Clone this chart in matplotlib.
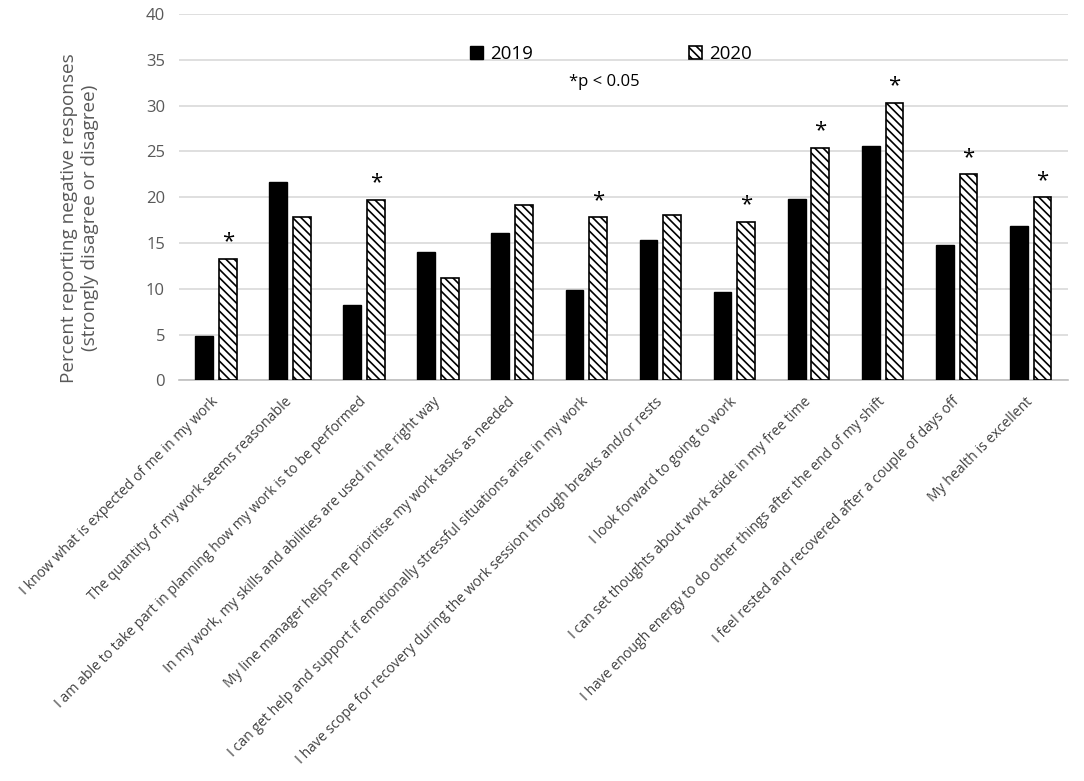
import numpy as np
import matplotlib
matplotlib.use("Agg")
import matplotlib.pyplot as plt

plt.rcParams['font.family'] = ['Open Sans', 'DejaVu Sans']
plt.rcParams['hatch.linewidth'] = 1.2

categories = [
    "I know what is expected of me in my work",
    "The quantity of my work seems reasonable",
    "I am able to take part in planning how my work is to be performed",
    "In my work, my skills and abilities are used in the right way",
    "My line manager helps me prioritise my work tasks as needed",
    "I can get help and support if emotionally stressful situations arise in my work",
    "I have scope for recovery during the work session through breaks and/or rests",
    "I look forward to going to work",
    "I can set thoughts about work aside in my free time",
    "I have enough energy to do other things after the end of my shift",
    "I feel rested and recovered after a couple of days off",
    "My health is excellent",
]
v2019 = [4.8, 21.7, 8.2, 14.0, 16.1, 9.9, 15.3, 9.6, 19.8, 25.6, 14.8, 16.9]
v2020 = [13.3, 17.8, 19.7, 11.2, 19.2, 17.8, 18.1, 17.3, 25.4, 30.3, 22.5, 20.0]
significant = [True, False, True, False, False, True, False, True, True, True, True, True]

fig = plt.figure(figsize=(10.84, 7.81), dpi=100)
ax = fig.add_axes([0.165, 0.513, 0.82, 0.469])

x = np.arange(len(categories))
w = 0.24
ax.bar(x - 0.16, v2019, w, color="black", edgecolor="black", label="2019", zorder=3)
ax.bar(x + 0.16, v2020, w, color="white", edgecolor="black", hatch="\\\\\\\\",
       linewidth=1.2, label="2020", zorder=3)

for xi, v, s in zip(x, v2020, significant):
    if s:
        ax.text(xi + 0.16, v + 0.7, "*", ha="center", va="bottom", fontsize=16)

ax.set_xlim(-0.5, len(categories) - 0.5)
ax.set_ylim(0, 40)
ax.set_yticks(range(0, 41, 5))
ax.yaxis.grid(True, color="#d9d9d9", linewidth=1.2, zorder=0)
ax.tick_params(axis="both", length=0, labelsize=12, labelcolor="#595959")
ax.tick_params(axis="y", pad=10)
for sp in ["top", "right", "left"]:
    ax.spines[sp].set_visible(False)
ax.spines["bottom"].set_color("#bfbfbf")
ax.spines["bottom"].set_linewidth(1.2)

ax.set_xticks(x)
ax.set_xticklabels(categories, rotation=45, ha="right", va="center",
                   rotation_mode="anchor", fontsize=10.1, color="#404040")
ax.tick_params(axis="x", pad=14)

ax.set_ylabel("Percent reporting negative responses\n(strongly disagree or disagree)",
              fontsize=13.6, color="#595959", linespacing=1.2)
ax.yaxis.set_label_coords(-0.09, 0.444)

ax.legend(ncol=2, loc="center", bbox_to_anchor=(0.486, 0.89), frameon=False,
          fontsize=13.5, handlelength=0.7, handleheight=0.7, handletextpad=0.4,
          columnspacing=8.3)
ax.text(0.479, 0.815, "*p < 0.05", transform=ax.transAxes, ha="center", va="center",
        fontsize=12)

fig.savefig("out.png", dpi=100, facecolor="white")
